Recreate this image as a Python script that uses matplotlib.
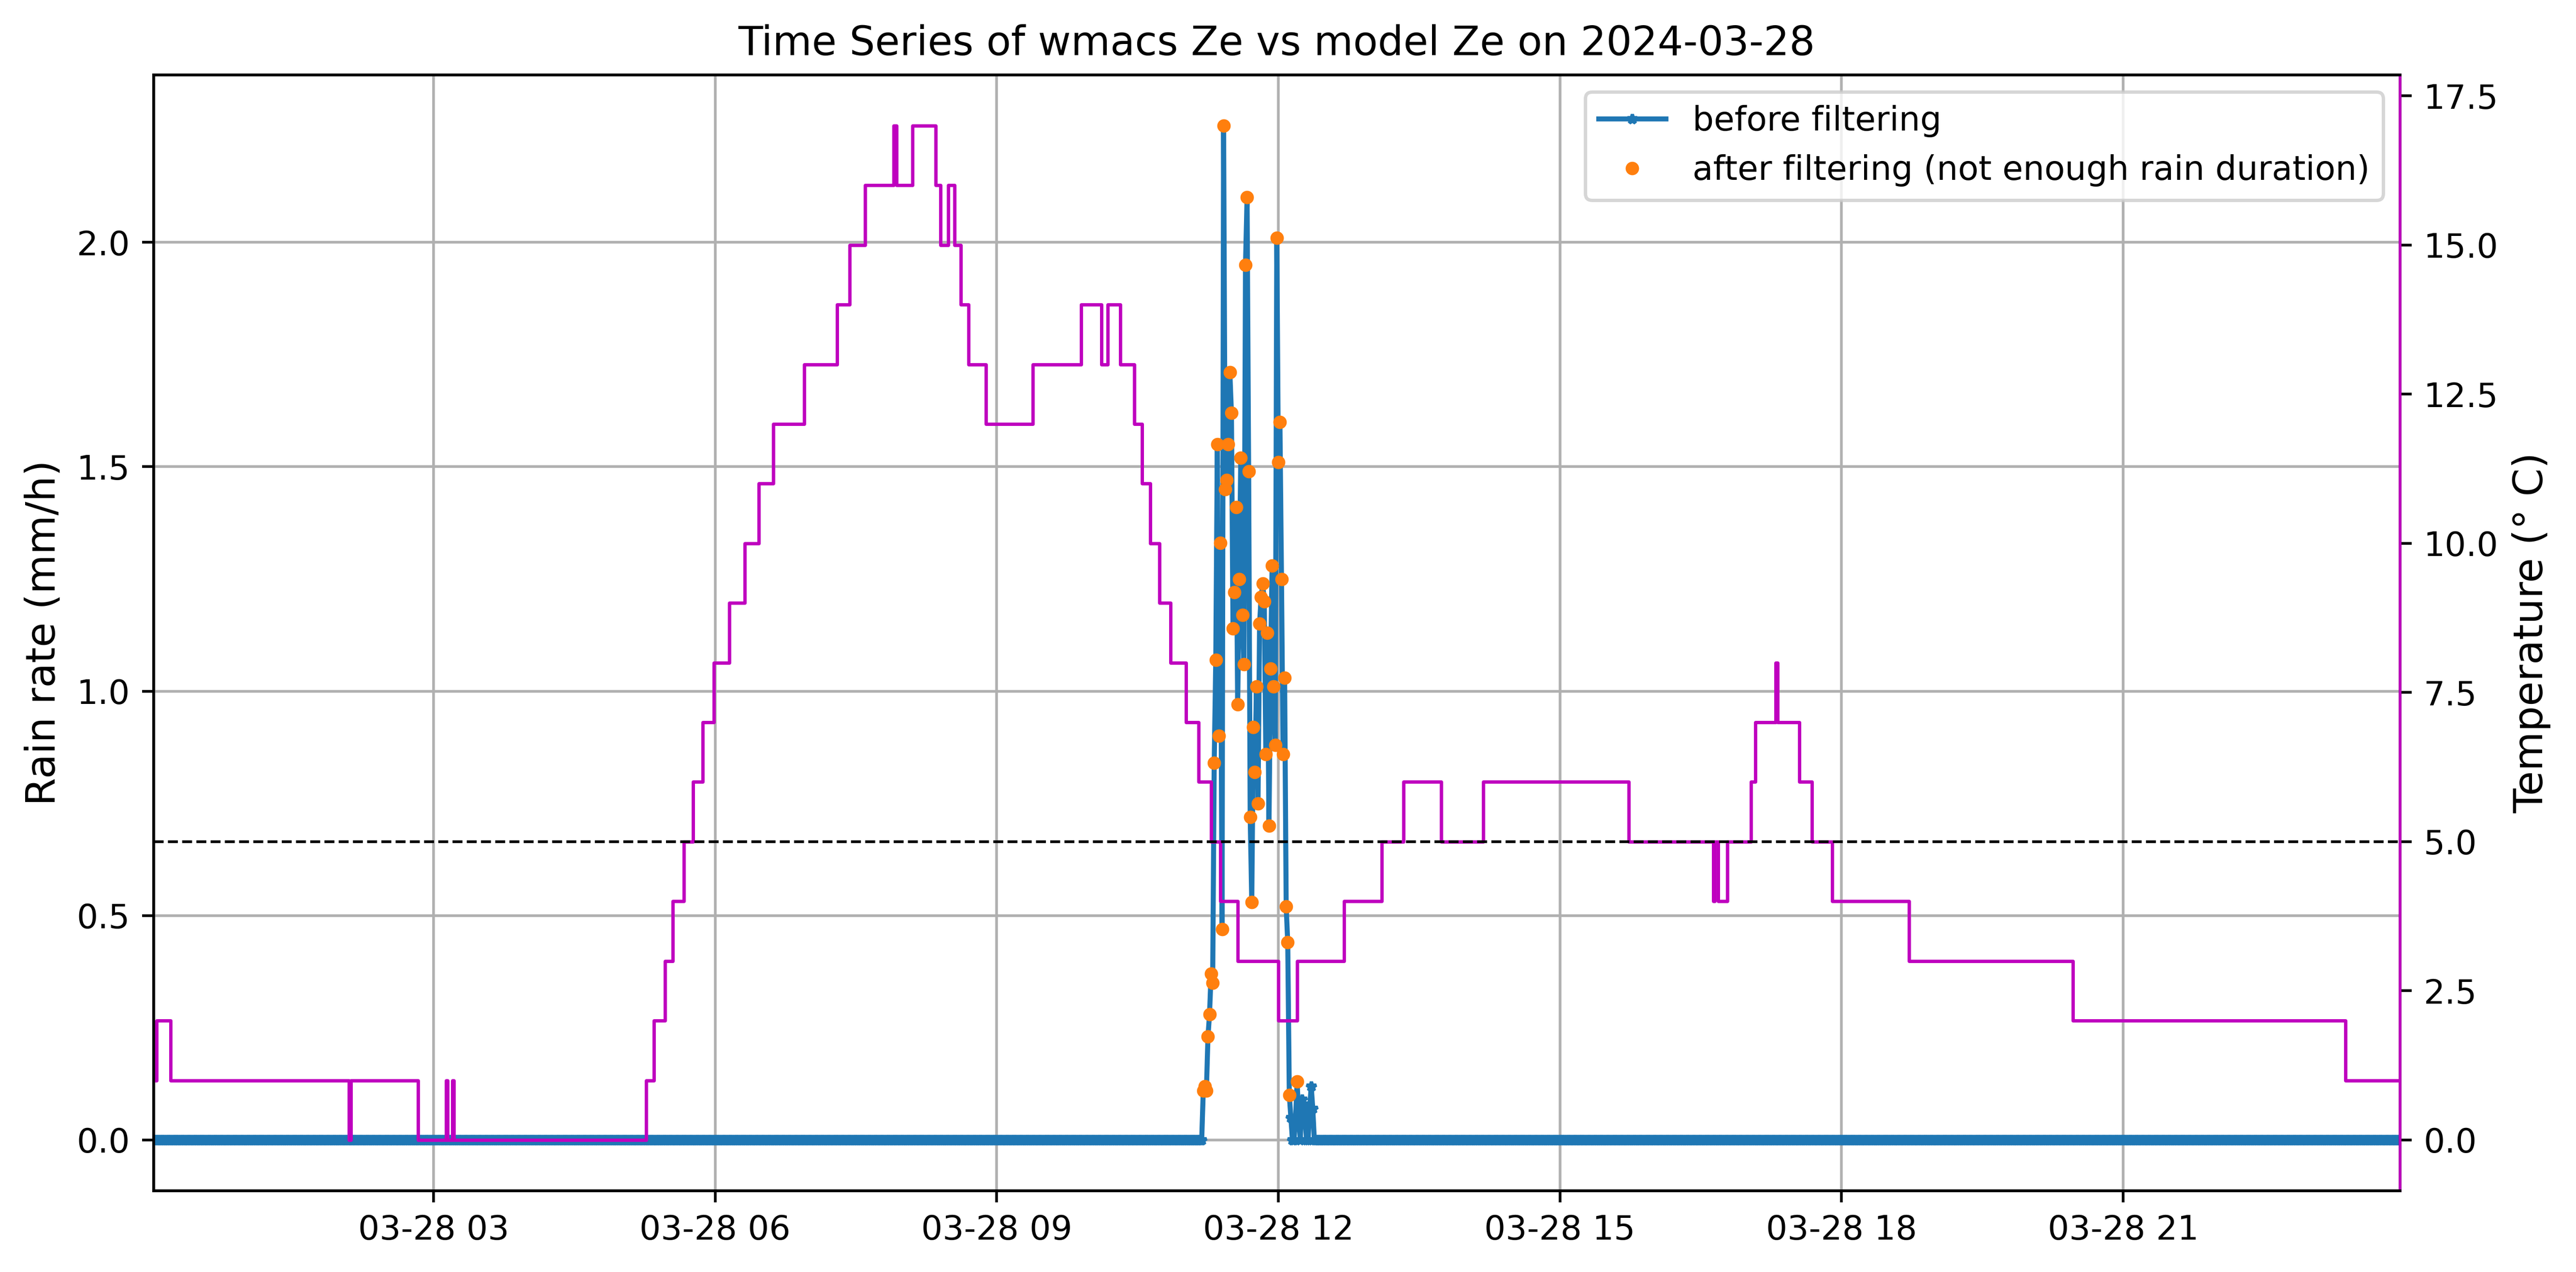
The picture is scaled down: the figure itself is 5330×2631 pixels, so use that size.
import numpy as np
import pandas as pd
import matplotlib
matplotlib.use('Agg')
import matplotlib.pyplot as plt
import matplotlib.dates as mdates

# data
day = '2024-03-28'
t_first = '00:01'
t_last = '23:57'

# rain rate (mm/h), one value per minute starting at rain_start, zero elsewhere
rain_start = '11:12'
rain_event = [0.11, 0.12, 0.11, 0.23, 0.28, 0.37, 0.35, 0.84, 1.07, 1.55,
              0.90, 1.33, 0.47, 2.26, 1.45, 1.47, 1.55, 1.71, 1.62, 1.14,
              1.22, 1.41, 0.97, 1.25, 1.52, 1.17, 1.06, 1.95, 2.10, 1.49,
              0.72, 0.53, 0.92, 0.82, 1.01, 0.75, 1.15, 1.21, 1.24, 1.20,
              0.86, 1.13, 0.70, 1.05, 1.28, 1.01, 0.88, 2.01, 1.51, 1.60,
              1.25, 0.86, 1.03, 0.52, 0.44,
              0.10, 0.05, 0.0, 0.0, 0.05, 0.13, 0.05, 0.0, 0.09, 0.08,
              0.05, 0.0, 0.0, 0.07, 0.12, 0.07, 0.0]
# points left after filtering (None = removed)
rain_kept = rain_event[:55] + [0.10, None, None, None, None, 0.13, None, None,
                               None, None, None, None, None, None, None, None, None]

# temperature (deg C): time of each change and the new value
temp_change = ['00:01', '00:03', '00:12', '02:06', '02:07', '02:50', '03:08', '03:09',
               '03:12', '03:13', '05:16', '05:21', '05:28', '05:33', '05:40', '05:46',
               '05:52', '05:59', '06:09', '06:19', '06:28', '06:37', '06:57', '07:18',
               '07:26', '07:36', '07:54', '07:56', '08:06', '08:21', '08:24', '08:29',
               '08:33', '08:37', '08:42', '08:53', '09:23', '09:54', '10:07', '10:11',
               '10:19', '10:28', '10:33', '10:38', '10:44', '10:51', '11:01', '11:09',
               '11:17', '11:23', '11:34', '12:00', '12:12', '12:42', '13:06', '13:20',
               '13:44', '14:11', '15:44', '16:38', '16:39', '16:41', '16:47', '17:02',
               '17:05', '17:18', '17:19', '17:33', '17:41', '17:54', '18:43', '20:28',
               '23:22']
temp_value = [1, 2, 1, 0, 1, 0, 1, 0,
              1, 0, 1, 2, 3, 4, 5, 6,
              7, 8, 9, 10, 11, 12, 13, 14,
              15, 16, 17, 16, 17, 16, 15, 16,
              15, 14, 13, 12, 13, 14, 13, 14,
              13, 12, 11, 10, 9, 8, 7, 6,
              5, 4, 3, 2, 3, 4, 5, 6,
              5, 6, 5, 4, 5, 4, 5, 6,
              7, 8, 7, 6, 5, 4, 3, 2,
              1]
temp_threshold = 5

# build series
times = pd.date_range(f'{day} {t_first}', f'{day} {t_last}', freq='min')
rain = pd.Series(0.0, index=times)
ev_idx = pd.date_range(f'{day} {rain_start}', periods=len(rain_event), freq='min')
rain[ev_idx] = rain_event
kept = pd.Series([np.nan if v is None else v for v in rain_kept], index=ev_idx)

temp_t = list(pd.to_datetime([f'{day} {t}' for t in temp_change])) + [times[-1]]
temp_v = temp_value + [temp_value[-1]]

fig = plt.figure(figsize=(10.66, 5.262), dpi=500)
ax = fig.add_axes([0.0596, 0.0639, 0.8721, 0.8772])

ax.plot(rain.index, rain.values, marker='*', markersize=3, linewidth=1.5,
        color='C0', label='before filtering')
ax.plot(kept.index, kept.values, '.', color='C1',
        label='after filtering (not enough rain duration)')
ax.set_ylabel('Rain rate (mm/h)', fontsize=12)
ax.set_title(f'Time Series of wmacs Ze vs model Ze on {day}')
ax.grid(True)
ax.legend(loc='upper right')

ax2 = ax.twinx()
ax2.plot(temp_t, temp_v, color='m', linewidth=1, drawstyle='steps-post')
ax2.axhline(temp_threshold, color='k', linestyle='--', linewidth=0.8)
ax2.set_ylabel('Temperature (° C)', fontsize=12)
ax2.spines['right'].set_color('m')

ax.set_xlim(times[0], times[-1])
ax.xaxis.set_major_locator(mdates.HourLocator(byhour=range(0, 24, 3)))
ax.xaxis.set_major_formatter(mdates.DateFormatter('%m-%d %H'))

fig.savefig('out.png', dpi=500)
